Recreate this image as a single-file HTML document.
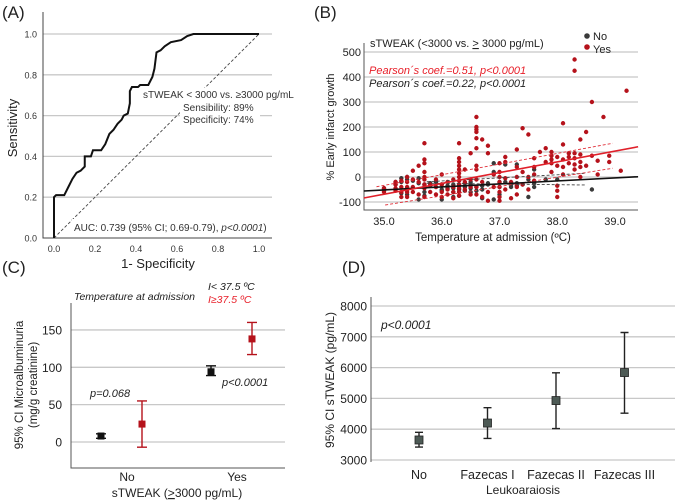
<!DOCTYPE html>
<html><head><meta charset="utf-8"><style>
html,body{margin:0;padding:0;background:#fff;}
svg{display:block;font-family:"Liberation Sans",sans-serif;}
</style></head><body>
<svg id="fig" width="675" height="502" viewBox="0 0 675 502">
<g id="pa"></g>
<g id="pb"></g>
<g id="pc"></g>
<g id="pd"></g>
</svg>
<script>
// Panel A data
const rocFpr=[0,0,0.01,0.05,0.07,0.09,0.11,0.13,0.15,0.15,0.18,0.19,0.23,0.25,0.27,0.29,0.31,0.33,0.34,0.36,0.37,0.37,0.38,0.41,0.42,0.46,0.48,0.49,0.50,0.52,0.54,0.57,0.62,0.65,0.68,1.0];
const rocTpr=[0,0.2,0.21,0.21,0.25,0.29,0.32,0.33,0.35,0.40,0.40,0.43,0.43,0.46,0.51,0.53,0.56,0.58,0.60,0.61,0.66,0.72,0.74,0.74,0.75,0.75,0.79,0.83,0.91,0.92,0.94,0.96,0.97,0.99,1.0,1.0];
const rocTicks=[0,0.2,0.4,0.6,0.8,1.0];
// Panel B data
const noTemps=[35.0,35.0,35.2,35.2,35.3,35.3,35.3,35.4,35.4,35.4,35.4,35.5,35.6,35.6,35.6,35.7,35.7,35.7,35.7,35.8,35.8,35.9,35.9,36.0,36.0,36.0,36.0,36.1,36.1,36.2,36.2,36.2,36.2,36.3,36.3,36.3,36.4,36.4,36.4,36.5,36.5,36.5,36.5,36.6,36.6,36.7,36.7,36.7,36.8,36.8,36.9,36.9,36.9,37.0,37.0,37.0,37.1,37.1,37.2,37.2,37.3,37.3,37.3,37.4,37.5,37.5,37.6,37.6,37.6,37.8,38.0,38.6];
const noValues=[-55,-45,-30,-20,-65,-20,-5,-45,0,-10,-70,-15,-90,-25,-5,-60,-40,-30,-75,-35,-25,-40,-20,-90,-50,-30,-55,-45,-35,-60,-80,-30,-45,-75,-50,-35,-55,-25,-40,-30,-20,-45,-60,-55,-40,-35,-50,-85,-25,-30,55,-90,20,-40,-70,-20,50,-20,-40,-30,50,-25,-35,-30,-80,-10,30,-40,-25,-10,-10,-50];
const yesTemps=[35.0,35.0,35.2,35.2,35.2,35.2,35.3,35.3,35.3,35.3,35.4,35.4,35.4,35.4,35.4,35.4,35.5,35.5,35.5,35.5,35.6,35.6,35.6,35.7,35.7,35.7,35.7,35.7,35.7,35.7,35.7,35.7,35.8,35.8,35.9,35.9,35.9,36.0,36.0,36.0,36.0,36.1,36.1,36.1,36.2,36.2,36.2,36.2,36.3,36.3,36.3,36.3,36.3,36.3,36.3,36.3,36.3,36.3,36.3,36.3,36.4,36.4,36.4,36.5,36.5,36.5,36.5,36.6,36.6,36.6,36.6,36.6,36.6,36.6,36.6,36.6,36.6,36.6,36.7,36.7,36.7,36.8,36.8,36.8,36.8,36.9,36.9,37.0,37.0,37.0,37.0,37.0,37.0,37.0,37.0,37.1,37.1,37.1,37.1,37.2,37.2,37.3,37.3,37.3,37.3,37.3,37.4,37.4,37.4,37.5,37.5,37.5,37.6,37.6,37.6,37.6,37.7,37.8,37.8,37.9,37.9,37.9,37.9,37.9,38.0,38.0,38.0,38.0,38.0,38.1,38.1,38.1,38.1,38.1,38.2,38.2,38.2,38.3,38.3,38.3,38.3,38.3,38.3,38.4,38.4,38.4,38.4,38.4,38.5,38.5,38.6,38.6,38.7,38.7,38.8,38.9,38.9,39.1,39.2];
const yesValues=[-60,-45,-30,-45,-55,-20,-80,-60,-40,-15,-80,-60,-40,-20,0,-50,25,-40,-60,-10,45,-70,-20,135,70,55,-10,-30,-45,0,20,-80,-60,-30,-10,-40,-70,10,-30,-60,-80,-20,-50,-70,-40,-10,-60,-85,135,75,60,45,30,15,0,-15,-30,-45,-60,-75,30,-20,-50,95,-10,-40,-70,240,200,190,180,155,115,45,30,-10,-40,-70,150,-20,-80,125,95,-95,-60,10,-40,55,20,0,-20,-40,-60,-80,-95,80,60,-5,-50,-20,-85,110,40,0,-40,-70,195,20,-30,170,-50,0,75,40,10,-15,100,115,60,100,85,70,55,20,80,45,-35,-55,-80,215,130,70,40,10,95,80,55,470,425,95,75,50,30,150,90,60,40,0,180,45,300,85,65,10,240,85,60,25,345];
const bTicksY=[500,400,300,200,100,0,-100];
const bTicksX=[35.0,36.0,37.0,38.0,39.0];
const redFit=[[34.65,-84],[39.4,121]];
const blackFit=[[34.65,-56],[39.4,1]];
const redCiUp=[[34.87,-39],[38.96,135]];
const redCiLo=[[35.02,-112],[38.96,35]];
const blackCiUp=[[35.74,-19],[38.5,15]];
const blackCiLo=[[35.74,-25],[38.5,-32]];
// Panel C data
const cCats=["No","Yes"];
const cLowMean=[8,94], cLowLo=[5,89], cLowHi=[11,102];
const cHighMean=[24,138], cHighLo=[-7,117], cHighHi=[55,160];
const cTicks=[0,50,100,150];
// Panel D data
const dCats=["No","Fazecas I","Fazecas II","Fazecas III"];
const dMean=[3650,4200,4930,5840], dLo=[3420,3700,4020,4520], dHi=[3900,4700,5830,7140];
const dTicks=[3000,4000,5000,6000,7000,8000];

const NS="http://www.w3.org/2000/svg";
function mk(parent,tag,attrs,text){const e=document.createElementNS(NS,tag);for(const k in attrs)e.setAttribute(k,attrs[k]);if(text!==undefined)e.textContent=text;parent.appendChild(e);return e;}

// ===== Panel A =====
(function(){
const g=document.getElementById('pa');
const xA=f=>54+f*205, yA=t=>238-t*204;
rocTicks.forEach(t=>{ if(t>0){const l=mk(g,'line',{x1:43,x2:272,y1:yA(t),y2:yA(t),stroke:'#c8c8c8','stroke-width':1.3});

}
const ty=mk(g,'text',{x:37,y:yA(t)+3.5,'text-anchor':'end','font-size':9,fill:'#333'},t.toFixed(1));


const tx=mk(g,'text',{x:xA(t),y:252,'text-anchor':'middle','font-size':9,fill:'#333'},t.toFixed(1));

});
const ax=mk(g,'path',{d:'M43,12 V238 H272',fill:'none',stroke:'#444','stroke-width':1});


const dg=mk(g,'line',{x1:xA(0),y1:yA(0),x2:xA(1),y2:yA(1),stroke:'#444','stroke-width':0.9,'stroke-dasharray':'3,2'});


let d='';rocFpr.forEach((f,i)=>{d+=(i?'L':'M')+xA(f)+','+yA(rocTpr[i]);});
const c=mk(g,'path',{d:d,fill:'none',stroke:'#111','stroke-width':2});


[[140,88,156,14],[180,101,80,25],[72,219,200,13]].forEach(r=>{const w=mk(g,'rect',{x:r[0],y:r[1],width:r[2],height:r[3],fill:'#fff'});});
const t1=mk(g,'text',{x:143,y:98,'font-size':10,fill:'#333'},'sTWEAK < 3000 vs. ≥3000 pg/mL');

const t2=mk(g,'text',{x:183,y:111,'font-size':10,fill:'#333'},'Sensibility: 89%');

const t3=mk(g,'text',{x:183,y:123,'font-size':10,fill:'#333'},'Specificity: 74%');

const t4=mk(g,'text',{x:74,y:231,'font-size':10,fill:'#333'});
t4.innerHTML='AUC: 0.739 (95% CI; 0.69-0.79), <tspan font-style="italic">p&lt;0.0001</tspan>)';

const yt=mk(g,'text',{x:0,y:0,transform:'translate(17,128) rotate(-90)','text-anchor':'middle','font-size':13,fill:'#222'},'Sensitivity');

const xt=mk(g,'text',{x:158,y:268,'text-anchor':'middle','font-size':13,fill:'#222'},'1- Specificity');

const pl=mk(g,'text',{x:2,y:18,'font-size':17,fill:'#222'},'(A)');

})();

// ===== Panel B =====
(function(){
const g=document.getElementById('pb');
const xB=t=>384+(t-35)*57.75, yB=v=>177-v*0.25;
bTicksY.forEach(v=>{const l=mk(g,'line',{x1:364,x2:638,y1:yB(v),y2:yB(v),stroke:'#c8c8c8','stroke-width':1.3});

const t=mk(g,'text',{x:361,y:yB(v)+4,'text-anchor':'end','font-size':11,fill:'#222'},String(v));
});
bTicksX.forEach(v=>{const t=mk(g,'text',{x:xB(v),y:225,'text-anchor':'middle','font-size':11,fill:'#222'},v.toFixed(1));
});
const ax=mk(g,'path',{d:'M364,43 V210 H638',fill:'none',stroke:'#555','stroke-width':1});

noTemps.forEach((t,i)=>{const c=mk(g,'circle',{cx:xB(t),cy:yB(noValues[i]),r:2.2,fill:'#3a3a3a'});
});
yesTemps.forEach((t,i)=>{const c=mk(g,'circle',{cx:xB(t),cy:yB(yesValues[i]),r:2.2,fill:'#b5121b'});
});
function ln(p,col,w,dash,name){const a={x1:xB(p[0][0]),y1:yB(p[0][1]),x2:xB(p[1][0]),y2:yB(p[1][1]),stroke:col,'stroke-width':w};if(dash)a['stroke-dasharray']=dash;const l=mk(g,'line',a);}
ln(blackCiUp,'#444',0.9,'3,2','no-ci-upper');ln(blackCiLo,'#444',0.9,'3,2','no-ci-lower');
ln(redCiUp,'#e0303a',0.9,'3,2','yes-ci-upper');ln(redCiLo,'#e0303a',0.9,'3,2','yes-ci-lower');
ln(blackFit,'#111',1.6,null,'no-fit-line');ln(redFit,'#e0202a',1.6,null,'yes-fit-line');
const tt=mk(g,'text',{x:370,y:47,'font-size':11,fill:'#222'});
tt.innerHTML='sTWEAK (&lt;3000 vs. <tspan text-decoration="underline">&gt;</tspan> 3000 pg/mL)';

const p1=mk(g,'text',{x:369,y:74,'font-size':11,'font-style':'italic',fill:'#e8202a'},'Pearson´s coef.=0.51, p<0.0001');

const p2=mk(g,'text',{x:369,y:87,'font-size':11,'font-style':'italic',fill:'#222'},'Pearson´s coef.=0.22, p<0.0001');

const l1=mk(g,'circle',{cx:587,cy:36,r:2.8,fill:'#3a3a3a'});
const l2=mk(g,'circle',{cx:587,cy:47,r:2.8,fill:'#b5121b'});
const lt1=mk(g,'text',{x:593,y:40,'font-size':11,fill:'#222'},'No');
const lt2=mk(g,'text',{x:593,y:53,'font-size':11,fill:'#222'},'Yes');
const yt=mk(g,'text',{x:0,y:0,transform:'translate(334,127) rotate(-90)','text-anchor':'middle','font-size':11,fill:'#222'},'% Early infarct growth');

const xt=mk(g,'text',{x:493,y:241,'text-anchor':'middle','font-size':11.5,fill:'#222'},'Temperature at admission (ºC)');

const pl=mk(g,'text',{x:314,y:18,'font-size':17,fill:'#222'},'(B)');

})();

// ===== Panel C =====
(function(){
const g=document.getElementById('pc');
const yC=v=>442-v*0.747;
const xCat=i=>127+i*110;
cTicks.forEach(v=>{const l=mk(g,'line',{x1:71,x2:285,y1:yC(v),y2:yC(v),stroke:'#c8c8c8','stroke-width':1.3});

const t=mk(g,'text',{x:62,y:yC(v)+4.5,'text-anchor':'end','font-size':12,fill:'#222'},String(v));
});
const ax=mk(g,'path',{d:'M71,303 V468 H285',fill:'none',stroke:'#555','stroke-width':1});

function eb(x,m,lo,hi,col,name){const e=mk(g,'path',{d:`M${x-5},${yC(hi)}H${x+5}M${x},${yC(hi)}V${yC(lo)}M${x-5},${yC(lo)}H${x+5}`,stroke:col,'stroke-width':1.4,fill:'none'});

const r=mk(g,'rect',{x:x-3.5,y:yC(m)-3.5,width:7,height:7,fill:col});
}
cCats.forEach((c,i)=>{eb(xCat(i)-26,cLowMean[i],cLowLo[i],cLowHi[i],'#111','c-low-temp-'+c.toLowerCase());
eb(xCat(i)+15,cHighMean[i],cHighLo[i],cHighHi[i],'#b5121b','c-high-temp-'+c.toLowerCase());
const t=mk(g,'text',{x:xCat(i),y:481,'text-anchor':'middle','font-size':12,fill:'#222'},c);
});
const ta=mk(g,'text',{x:74,y:300,'font-size':10.5,'font-style':'italic',fill:'#222'},'Temperature at admission');

const la=mk(g,'text',{x:208,y:290,'font-size':10.5,'font-style':'italic',fill:'#222'},'I< 37.5 ºC');

const lb=mk(g,'text',{x:208,y:303,'font-size':10.5,'font-style':'italic',fill:'#e8202a'},'I≥37.5 ºC');

const pa=mk(g,'text',{x:90,y:397,'font-size':11,'font-style':'italic',fill:'#222'},'p=0.068');

const pb=mk(g,'text',{x:222,y:386,'font-size':11,'font-style':'italic',fill:'#222'},'p<0.0001');

const y1=mk(g,'text',{x:0,y:0,transform:'translate(23,385) rotate(-90)','text-anchor':'middle','font-size':11.5,fill:'#222'},'95% CI Microalbuminuria');

const y2=mk(g,'text',{x:0,y:0,transform:'translate(37,385) rotate(-90)','text-anchor':'middle','font-size':11.5,fill:'#222'},'(mg/g creatinine)');

const xt=mk(g,'text',{x:177,y:497,'text-anchor':'middle','font-size':12,fill:'#222'});
xt.innerHTML='sTWEAK (<tspan text-decoration="underline">&gt;</tspan>3000 pg/mL)';

const pl=mk(g,'text',{x:2,y:273,'font-size':17,fill:'#222'},'(C)');

})();

// ===== Panel D =====
(function(){
const g=document.getElementById('pd');
const yD=v=>460-(v-3000)*0.0308;
const xCat=i=>419+i*68.5;
dTicks.forEach(v=>{const l=mk(g,'line',{x1:371,x2:675,y1:yD(v),y2:yD(v),stroke:'#c8c8c8','stroke-width':1.3});

const t=mk(g,'text',{x:367,y:yD(v)+4.5,'text-anchor':'end','font-size':12,fill:'#222'},String(v));
});
const ax=mk(g,'line',{x1:371,y1:297,x2:371,y2:462,stroke:'#555','stroke-width':1});

dCats.forEach((c,i)=>{const x=xCat(i);
const e=mk(g,'path',{d:`M${x-4},${yD(dHi[i])}H${x+4}M${x},${yD(dHi[i])}V${yD(dLo[i])}M${x-4},${yD(dLo[i])}H${x+4}`,stroke:'#222','stroke-width':1.4,fill:'none'});

const r=mk(g,'rect',{x:x-4,y:yD(dMean[i])-4,width:8,height:8,fill:'#4d5a55',stroke:'#222','stroke-width':0.8});

const t=mk(g,'text',{x:x,y:479,'text-anchor':'middle','font-size':12.5,fill:'#222'},c);
});
const p=mk(g,'text',{x:381,y:329,'font-size':12,'font-style':'italic',fill:'#222'},'p<0.0001');

const yt=mk(g,'text',{x:0,y:0,transform:'translate(334,380) rotate(-90)','text-anchor':'middle','font-size':12,fill:'#222'},'95% CI sTWEAK (pg/mL)');

const xt=mk(g,'text',{x:523,y:494,'text-anchor':'middle','font-size':12,fill:'#222'},'Leukoaraiosis');

const pl=mk(g,'text',{x:342,y:273,'font-size':17,fill:'#222'},'(D)');

})();
</script>
</body></html>
